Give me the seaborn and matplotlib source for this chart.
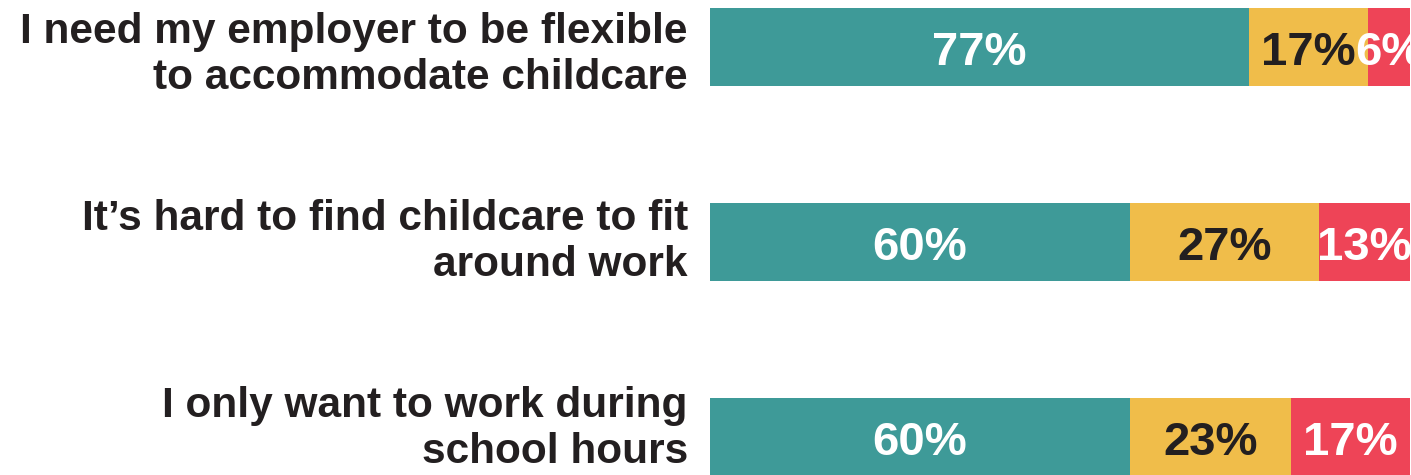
import matplotlib
matplotlib.use("Agg")
import matplotlib.pyplot as plt
import seaborn as sns
import pandas as pd
import numpy as np

# Survey statements and the share of answers in each band (percent)
statements = [
    "I need my employer to be flexible\nto accommodate childcare",
    "It\u2019s hard to find childcare to fit\naround work",
    "I only want to work during\nschool hours",
]
agree = [77, 60, 60]
neutral = [17, 27, 23]
disagree = [6, 13, 17]

colors = ["#3E9A98", "#F0BD4A", "#EE4457"]
label_colors = ["white", "#231F20", "white"]

sns.set_theme(style="white")
plt.rcParams["font.family"] = ["Liberation Sans", "DejaVu Sans"]

fig = plt.figure(figsize=(14.11, 4.75), dpi=100)
ax = fig.add_axes([710 / 1411, 0, 700 / 1411, 1])

series = [agree, neutral, disagree]
cum = np.cumsum(np.array(series), axis=0)

# Draw stacked bars back to front: full totals first, then the shorter cumulative sums on top
for k in range(len(series) - 1, -1, -1):
    df = pd.DataFrame({"statement": statements, "value": cum[k]})
    sns.barplot(data=df, x="value", y="statement", orient="h", color=colors[k],
                saturation=1, width=0.4, ax=ax, linewidth=0, order=statements)

# Value labels in the middle of each segment (baseline set a little below bar centre)
for k, vals in enumerate(series):
    starts = cum[k] - np.array(vals)
    for i, v in enumerate(vals):
        ax.annotate(f"{v}%", xy=(starts[i] + v / 2, i), xytext=(0, -13.3),
                    textcoords="offset points", ha="center", va="baseline",
                    fontsize=34, fontweight="bold", color=label_colors[k])

ax.set_xlim(0, 100)
ax.set_ylim(2.197, -0.241)
ax.set_xlabel("")
ax.set_ylabel("")
ax.set_xticks([])
ax.set_yticks(range(len(statements)))
ax.set_yticklabels([])
for s in ax.spines.values():
    s.set_visible(False)
ax.tick_params(axis="y", length=0)

# Statement labels to the left of the bars, right-aligned
last_baseline_drop = [30.2, 24.5, 19.1]  # points below bar centre for the last line
for i, text in enumerate(statements):
    ax.annotate(text, xy=(0, i), xycoords=("axes fraction", "data"),
                xytext=(-16, -last_baseline_drop[i]), textcoords="offset points",
                ha="right", va="baseline", multialignment="right",
                fontsize=30.5, fontweight="bold", color="#231F20",
                linespacing=1.2)

fig.savefig("out.png", dpi=100, facecolor="white")
